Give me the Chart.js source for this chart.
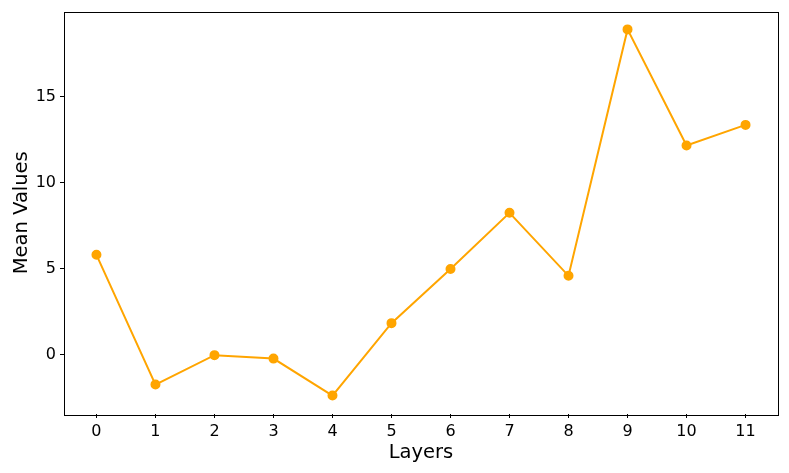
<!DOCTYPE html>
<html>
<head>
<meta charset="utf-8">
<script src="https://cdn.jsdelivr.net/npm/chart.js@4/dist/chart.umd.min.js"></script>
<style>
  body { margin: 0; background: #fff; }
  #wrap { width: 789px; height: 473px; }
</style>
</head>
<body>
<div id="wrap"><canvas id="myChart" width="789" height="473"></canvas></div>
<script>
'use strict';
// data
let layers = [0, 1, 2, 3, 4, 5, 6, 7, 8, 9, 10, 11];
let meanValues = [5.80, -1.74, -0.03, -0.23, -2.38, 1.83, 4.98, 8.24, 4.58, 18.90, 12.15, 13.35];
let yTicks = [0, 5, 10, 15];

let points = [];
for (let i = 0; i < layers.length; i++) {
  points.push({ x: layers[i], y: meanValues[i] });
}

// box around the plot like matplotlib
let frame = {
  id: 'frame',
  afterDraw(chart) {
    let a = chart.chartArea;
    let ctx = chart.ctx;
    ctx.save();
    ctx.strokeStyle = '#000';
    ctx.lineWidth = 1;
    ctx.strokeRect(Math.round(a.left) + 0.5, Math.round(a.top) + 0.5, Math.round(a.right - a.left), Math.round(a.bottom - a.top));
    ctx.restore();
  }
};

let ctx = document.getElementById('myChart').getContext('2d');
let chart = new Chart(ctx, {
  type: 'line',
  data: {
    datasets: [{
      data: points,
      borderColor: '#FFA500',
      backgroundColor: '#FFA500',
      borderWidth: 2,
      pointRadius: 4,
      pointHoverRadius: 4,
      tension: 0
    }]
  },
  options: {
    responsive: false,
    animation: false,
    layout: { padding: { top: 11.5, right: 11, left: 0, bottom: 0 } },
    plugins: { legend: { display: false }, tooltip: { enabled: false } },
    scales: {
      x: {
        type: 'linear',
        min: -0.55,
        max: 11.55,
        afterBuildTicks: function (axis) {
          axis.ticks = layers.map(v => ({ value: v }));
        },
        afterFit: function (axis) {
          axis.height = 59;
          axis.paddingLeft = 0;
          axis.paddingRight = 0;
        },
        grid: { drawOnChartArea: false, tickLength: 4, color: '#000', tickColor: '#000' },
        border: { display: false },
        ticks: { color: '#000', font: { family: 'DejaVu Sans', size: 16 }, padding: 4, maxRotation: 0 },
        title: { display: true, text: 'Layers', color: '#000', font: { family: 'DejaVu Sans', size: 19.5 }, padding: { top: 2, bottom: 8 } }
      },
      y: {
        min: -3.45,
        max: 19.94,
        afterBuildTicks: function (axis) {
          axis.ticks = yTicks.map(v => ({ value: v }));
        },
        afterFit: function (axis) {
          axis.width = 64;
          axis.paddingTop = 0;
          axis.paddingBottom = 0;
        },
        grid: { drawOnChartArea: false, tickLength: 4, color: '#000', tickColor: '#000' },
        border: { display: false },
        ticks: { color: '#000', font: { family: 'DejaVu Sans', size: 16 }, padding: 4 },
        title: { display: true, text: 'Mean Values', color: '#000', font: { family: 'DejaVu Sans', size: 19.5 }, padding: { top: 10, bottom: 4 } }
      }
    }
  },
  plugins: [frame]
});
</script>
</body>
</html>
